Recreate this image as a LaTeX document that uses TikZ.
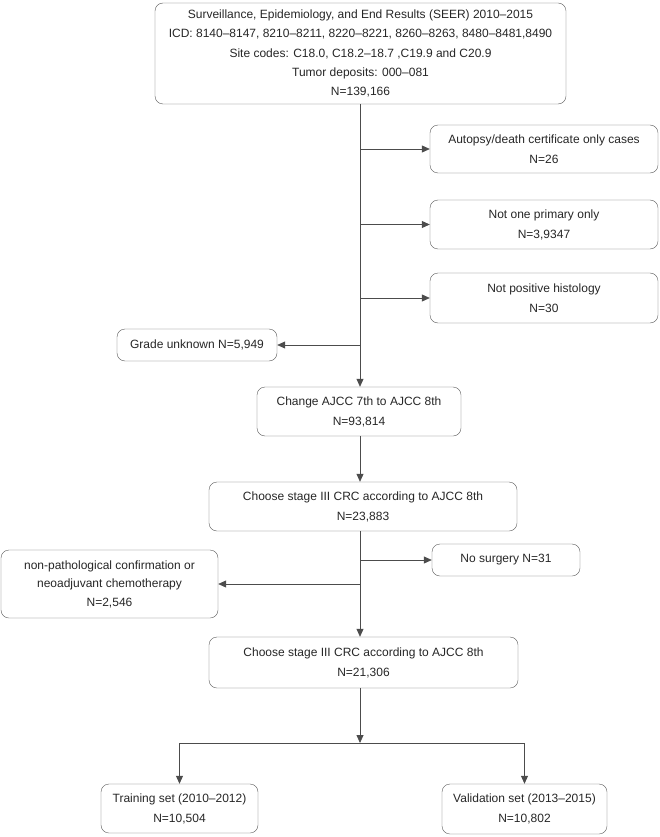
\documentclass[tikz,border=0pt]{standalone}
\usepackage{fontspec}
\setmainfont{Liberation Sans}
\usetikzlibrary{arrows.meta}
\begin{document}
\begin{tikzpicture}[x=1pt,y=-1pt,
  box/.style={draw=black!65, rounded corners=8pt, align=center, inner sep=0pt,
    text=black!85, font=\fontsize{12}{20}\selectfont},
  conn/.style={draw=black!70, line width=0.8pt},
  arr/.style={conn, -{Triangle[length=8pt,width=7pt]}}]
\useasboundingbox (0,0) rectangle (659,837);
\node[box, minimum width=411pt, minimum height=101pt, font=\fontsize{12}{19.2}\selectfont] (top) at (360.5,53.5)
  {Surveillance, Epidemiology, and End Results (SEER) 2010--2015\\
   ICD: 8140--8147, 8210--8211, 8220--8221, 8260--8263, 8480--8481,8490\\
   Site codes: C18.0, C18.2--18.7 ,C19.9 and C20.9\\
   Tumor deposits: 000--081\\
   N=139,166};
\node[box, minimum width=228pt, minimum height=48pt] (auto) at (544,149)
  {Autopsy/death certificate only cases\\N=26};
\node[box, minimum width=228pt, minimum height=49pt] (notone) at (544,224.5)
  {Not one primary only\\N=3,9347};
\node[box, minimum width=228pt, minimum height=50pt] (notpos) at (544,298)
  {Not positive histology\\N=30};
\node[box, minimum width=160pt, minimum height=32pt] (grade) at (197,345)
  {Grade unknown N=5,949};
\node[box, minimum width=204pt, minimum height=49pt] (change) at (359,411.5)
  {Change AJCC 7th to AJCC 8th\\N=93,814};
\node[box, minimum width=308pt, minimum height=49pt] (choose1) at (363,506.5)
  {Choose stage III CRC according to AJCC 8th\\N=23,883};
\node[box, minimum width=148pt, minimum height=32pt] (nosurg) at (506,560)
  {No surgery N=31};
\node[box, minimum width=217pt, minimum height=68pt, font=\fontsize{12}{18.5}\selectfont] (nonpath) at (109.5,584)
  {non-pathological confirmation or\\neoadjuvant chemotherapy\\N=2,546};
\node[box, minimum width=309pt, minimum height=51pt] (choose2) at (363.5,662.5)
  {Choose stage III CRC according to AJCC 8th\\N=21,306};
\node[box, minimum width=157pt, minimum height=49pt] (train) at (179.5,808.5)
  {Training set (2010--2012)\\N=10,504};
\node[box, minimum width=165pt, minimum height=50pt] (valid) at (524.5,809)
  {Validation set (2013--2015)\\N=10,802};
% trunk coordinates
\coordinate (tx) at (360,0);
\coordinate (split) at (360,743);
\coordinate (sl) at (179.5,743);
\coordinate (sr) at (524.5,743);
\draw[arr] (top.south -| tx) -- (change.north -| tx);
\draw[arr] (auto.west -| tx) -- (auto.west);
\draw[arr] (notone.west -| tx) -- (notone.west);
\draw[arr] (notpos.west -| tx) -- (notpos.west);
\draw[arr] (grade.east -| tx) -- (grade.east);
\draw[arr] (change.south -| tx) -- (choose1.north -| tx);
\draw[arr] (choose1.south -| tx) -- (choose2.north -| tx);
\draw[arr] (nosurg.west -| tx) -- (nosurg.west);
\draw[arr] (nonpath.east -| tx) -- (nonpath.east);
\draw[arr] (choose2.south -| tx) -- (split);
\draw[conn] (sl) -- (sr);
\draw[arr] (sl) -- (train.north);
\draw[arr] (sr) -- (valid.north);
\end{tikzpicture}
\end{document}
